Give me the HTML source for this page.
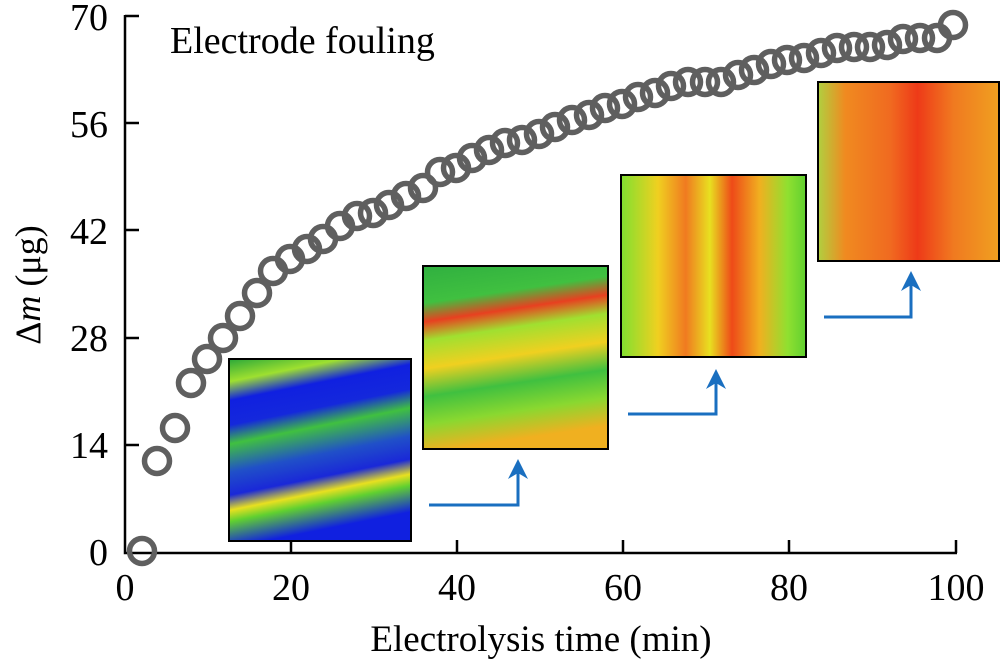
<!DOCTYPE html>
<html><head><meta charset="utf-8"><style>
html,body{margin:0;padding:0;background:#fff;}
svg{display:block;}
text{font-family:"Liberation Serif","Times New Roman",serif;}
</style></head><body>
<svg width="1000" height="669" viewBox="0 0 1000 669" xmlns="http://www.w3.org/2000/svg" font-family="Liberation Serif, serif">
<defs>
<linearGradient id="g1" x1="0" y1="0" x2="0.2" y2="1">
<stop offset="0" stop-color="#2aa83a"/><stop offset="0.12" stop-color="#9ee030"/>
<stop offset="0.22" stop-color="#1020e0"/><stop offset="0.35" stop-color="#1428dc"/>
<stop offset="0.45" stop-color="#40c040"/><stop offset="0.6" stop-color="#2050c8"/>
<stop offset="0.72" stop-color="#1a28d8"/><stop offset="0.8" stop-color="#e8e020"/>
<stop offset="0.86" stop-color="#60d030"/><stop offset="1" stop-color="#1020e0"/>
</linearGradient>
<linearGradient id="g2" x1="0" y1="0" x2="0.15" y2="1">
<stop offset="0" stop-color="#30b040"/><stop offset="0.2" stop-color="#40c040"/>
<stop offset="0.3" stop-color="#e84020"/><stop offset="0.4" stop-color="#a0e030"/>
<stop offset="0.55" stop-color="#f0d020"/><stop offset="0.7" stop-color="#40c040"/>
<stop offset="0.85" stop-color="#8ad830"/><stop offset="1" stop-color="#f0b020"/>
</linearGradient>
<linearGradient id="g3" x1="0" y1="0" x2="1" y2="0">
<stop offset="0" stop-color="#80e030"/><stop offset="0.2" stop-color="#f0d020"/>
<stop offset="0.35" stop-color="#f07a20"/><stop offset="0.48" stop-color="#e8e020"/>
<stop offset="0.6" stop-color="#ee4a18"/><stop offset="0.75" stop-color="#f0b020"/>
<stop offset="0.9" stop-color="#90e030"/><stop offset="1" stop-color="#60d030"/>
</linearGradient>
<linearGradient id="g4" x1="0" y1="0" x2="1" y2="0">
<stop offset="0" stop-color="#b0d040"/><stop offset="0.15" stop-color="#f08a20"/>
<stop offset="0.4" stop-color="#f06a20"/><stop offset="0.55" stop-color="#ee3a18"/>
<stop offset="0.75" stop-color="#f07a20"/><stop offset="1" stop-color="#f0a020"/>
</linearGradient>
</defs>

<!-- axes -->
<g stroke="#000" stroke-width="2.5" fill="none">
<path d="M125 15 L125 553 L957 553"/>
<path d="M125 16 H139 M125 123 H139 M125 230 H139 M125 338 H139 M125 445 H139"/>
<path d="M291 553 V540 M457 553 V540 M623 553 V540 M789 553 V540 M956 553 V540"/>
</g>
<g font-size="38" fill="#000" text-anchor="end">
<text x="108" y="30">70</text><text x="108" y="137">56</text><text x="108" y="244">42</text>
<text x="108" y="351">28</text><text x="108" y="458">14</text><text x="108" y="565">0</text>
</g>
<g font-size="38" fill="#000" text-anchor="middle">
<text x="125" y="600">0</text><text x="291" y="600">20</text><text x="457" y="600">40</text>
<text x="623" y="600">60</text><text x="789" y="600">80</text><text x="956" y="600">100</text>
</g>
<text x="541" y="651" font-size="37" text-anchor="middle">Electrolysis time (min)</text>
<text transform="translate(40,285) rotate(-90)" font-size="36" text-anchor="middle">Δ<tspan font-style="italic">m</tspan> (μg)</text>
<text x="170" y="53" font-size="38">Electrode fouling</text>

<!-- insets -->
<rect x="229" y="359" width="182" height="182" fill="url(#g1)" stroke="#000" stroke-width="2"/>
<rect x="423" y="266" width="185" height="183" fill="url(#g2)" stroke="#000" stroke-width="2"/>
<rect x="621" y="175" width="185" height="182" fill="url(#g3)" stroke="#000" stroke-width="2"/>
<rect x="818" y="82" width="181" height="179" fill="url(#g4)" stroke="#000" stroke-width="2"/>

<!-- arrows -->
<g stroke="#1a6fc0" stroke-width="3" fill="none">
<path d="M429 505 H518 V468"/><path d="M628 414 H716 V378"/><path d="M824 317 H911 V280"/>
</g>
<g fill="#1a6fc0">
<path d="M508 479 L518 459 L528 479 L518 473Z"/>
<path d="M706 389 L716 369 L726 389 L716 383Z"/>
<path d="M901 291 L911 271 L921 291 L911 285Z"/>
</g>

<!-- data -->
<g fill="none" stroke="#5f5f5f" stroke-width="5.5">
<circle cx="142" cy="551" r="12.5"/><circle cx="157" cy="461" r="12.5"/><circle cx="175" cy="428" r="12.5"/>
<circle cx="191" cy="383" r="12.5"/><circle cx="207" cy="359" r="12.5"/><circle cx="223" cy="338" r="12.5"/>
<circle cx="240" cy="316" r="12.5"/><circle cx="257" cy="293" r="12.5"/><circle cx="273" cy="271" r="12.5"/>
<circle cx="290" cy="259" r="12.5"/><circle cx="307" cy="249" r="12.5"/><circle cx="323" cy="239" r="12.5"/>
<circle cx="340" cy="226" r="12.5"/><circle cx="357" cy="216" r="12.5"/><circle cx="373" cy="213" r="12.5"/>
<circle cx="389" cy="205" r="12.5"/><circle cx="406" cy="196" r="12.5"/><circle cx="423" cy="188" r="12.5"/>
<circle cx="440" cy="172" r="12.5"/><circle cx="456" cy="168" r="12.5"/><circle cx="472" cy="158" r="12.5"/>
<circle cx="489" cy="150" r="12.5"/><circle cx="505" cy="143" r="12.5"/><circle cx="522" cy="140" r="12.5"/>
<circle cx="539" cy="134" r="12.5"/><circle cx="555" cy="127" r="12.5"/><circle cx="572" cy="120" r="12.5"/>
<circle cx="589" cy="115" r="12.5"/><circle cx="605" cy="108" r="12.5"/><circle cx="622" cy="104" r="12.5"/>
<circle cx="638" cy="97" r="12.5"/><circle cx="655" cy="93" r="12.5"/><circle cx="671" cy="86" r="12.5"/>
<circle cx="688" cy="82" r="12.5"/><circle cx="705" cy="82" r="12.5"/><circle cx="721" cy="82" r="12.5"/>
<circle cx="738" cy="75" r="12.5"/><circle cx="754" cy="70" r="12.5"/><circle cx="771" cy="64" r="12.5"/>
<circle cx="787" cy="60" r="12.5"/><circle cx="804" cy="58" r="12.5"/><circle cx="821" cy="53" r="12.5"/>
<circle cx="837" cy="48" r="12.5"/><circle cx="854" cy="47" r="12.5"/><circle cx="870" cy="47" r="12.5"/>
<circle cx="887" cy="45" r="12.5"/><circle cx="903" cy="39" r="12.5"/><circle cx="920" cy="38" r="12.5"/>
<circle cx="937" cy="38" r="12.5"/><circle cx="953" cy="25" r="12.5"/>
</g>
</svg>
</body></html>
